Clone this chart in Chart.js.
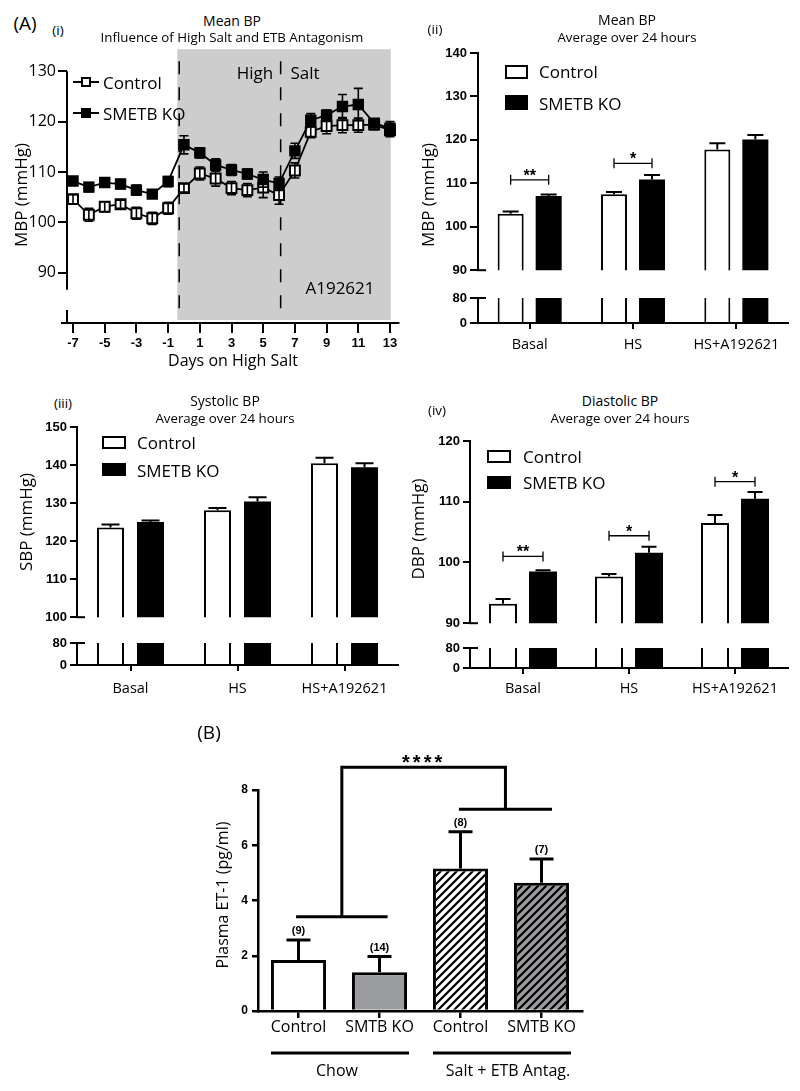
<!DOCTYPE html>
<html><head><meta charset="utf-8">
<script src="https://cdn.jsdelivr.net/npm/chart.js@4.4.1/dist/chart.umd.min.js"></script>
<style>
html,body{margin:0;padding:0;background:#fff;}
#root{position:relative;width:800px;height:1091px;overflow:hidden;font-family:"Open Sans",sans-serif;color:#000;background:#fff;}
canvas{position:absolute;}
.t{position:absolute;white-space:nowrap;line-height:1;z-index:5;}
.b{position:absolute;box-sizing:border-box;z-index:5;}
</style></head><body><div id="root"></div>
<script>
// ---------- DATA ----------
// (i) Mean BP time course
const days = [-7,-6,-5,-4,-3,-2,-1,0,1,2,3,4,5,6,7,8,9,10,11,12,13];
const mbpControl    = [104.6,101.5,103.1,103.6,101.8,100.8,102.8,106.8,109.7,108.7,106.8,106.4,106.9,105.4,110.3,118.0,119.1,119.3,119.3,119.4,118.3];
const mbpControlErr = [0.9,1.3,1.0,0.8,1.2,1.2,1.2,0.8,1.3,1.5,1.3,1.3,2.0,1.8,1.5,1.2,1.5,1.5,1.4,1.0,1.3];
const mbpKO         = [108.2,107.0,107.9,107.6,106.4,105.6,108.1,115.4,113.8,111.4,110.4,109.6,108.5,107.7,114.2,120.3,121.3,123.0,123.4,119.7,118.7];
const mbpKOErr      = [0.8,0.9,0.7,0.9,1.0,0.7,1.0,1.8,1.0,1.2,1.1,1.0,1.5,1.3,1.5,1.3,1.0,2.4,3.2,0.8,1.3];
const dayTicks = [-7,-5,-3,-1,1,3,5,7,9,11,13];
const mbpTicks = [90,100,110,120,130];
const shadeDays = [-0.42, 13.05];
const shadeLevels = [134.4, 80.6];
const dashDays = [-0.3, 6.1];

// (ii)-(iv) 24 h averages
const phases = ['Basal','HS','HS+A192621'];
const meanCtrl = [103.0,107.5,117.8], meanCtrlErr = [0.5,0.5,1.4];
const meanKO   = [107.1,110.9,120.1], meanKOErr   = [0.3,1.0,1.0];
const meanTicks = [90,100,110,120,130,140];
const meanSigLevel = [110.8,114.6,null], meanSigText = ['**','*',''];

const sbpCtrl = [123.6,128.1,140.5], sbpCtrlErr = [0.8,0.6,1.4];
const sbpKO   = [125.0,130.4,139.4], sbpKOErr   = [0.4,1.1,1.1];
const sbpTicks = [100,110,120,130,140,150];
const sbpSigLevel = [null,null,null], sbpSigText = ['','',''];

const dbpCtrl = [93.2,97.7,106.5], dbpCtrlErr = [0.8,0.4,1.3];
const dbpKO   = [98.5,101.6,110.5], dbpKOErr   = [0.2,1.0,1.1];
const dbpTicks = [90,100,110,120];
const dbpSigLevel = [101.0,104.4,113.3], dbpSigText = ['**','*','*'];

const lowTicks = [0,80];

// (B) Plasma ET-1
const et1Groups = ['Control','SMTB KO','Control','SMTB KO'];
const et1Values = [1.85,1.40,5.16,4.64];
const et1Err    = [0.72,0.57,1.33,0.86];
const et1N      = ['(9)','(14)','(8)','(7)'];
const et1Ticks  = [0,2,4,6,8];
const et1Brackets = [3.41, 8.82, 7.30]; // chow level, top level, salt level
const et1Sig = '****';

// ---------- helpers ----------
const root = document.getElementById('root');
function mkCanvas(l,t,w,h){const c=document.createElement('canvas');c.width=w;c.height=h;c.style.left=l+'px';c.style.top=t+'px';c.style.width=w+'px';c.style.height=h+'px';root.appendChild(c);return c;}
function txt(s,x,y,size,opt){opt=opt||{};const d=document.createElement('div');d.className='t';d.textContent=s;d.style.left=x+'px';d.style.top=y+'px';d.style.fontSize=size+'px';
  let tr = opt.left ? 'translate(0,-50%)' : 'translate(-50%,-50%)'; if(opt.rot) tr += ' rotate(-90deg)'; d.style.transform=tr; if(opt.weight) d.style.fontWeight=opt.weight; root.appendChild(d); return d;}
function box(x,y,w,h,bg){const d=document.createElement('div');d.className='b';d.style.left=x+'px';d.style.top=y+'px';d.style.width=w+'px';d.style.height=h+'px';d.style.background=bg;d.style.border='2px solid #000';root.appendChild(d);return d;}
function hline(x,y,w,h){const d=document.createElement('div');d.className='b';d.style.left=x+'px';d.style.top=y+'px';d.style.width=w+'px';d.style.height=h+'px';d.style.background='#000';root.appendChild(d);return d;}
const base = {responsive:false, animation:false, devicePixelRatio:1, events:[]};
const noPlug = {legend:{display:false}, tooltip:{enabled:false}};
const numFont = (s)=>({family:'Liberation Sans', weight:'bold', size:s});

// ---------- (i) line chart ----------
function makeLineErr(errs){return {id:'lineErr', afterDatasetDraw(chart,args){const idx=args.index, e=errs[idx], y=chart.scales.y, ctx=chart.ctx;
  ctx.save();ctx.strokeStyle='#000';ctx.lineWidth=1.6;ctx.beginPath();
  args.meta.data.forEach((pt,i)=>{const v=chart.data.datasets[idx].data[i].y;const yt=y.getPixelForValue(v+e[i]),yb=y.getPixelForValue(v-e[i]);
    ctx.moveTo(pt.x,yt);ctx.lineTo(pt.x,yb);ctx.moveTo(pt.x-4.5,yt);ctx.lineTo(pt.x+4.5,yt);ctx.moveTo(pt.x-4.5,yb);ctx.lineTo(pt.x+4.5,yb);});
  ctx.stroke();ctx.restore();}};}
const panel1Deco = {id:'p1deco',
  beforeDraw(chart){const {ctx,scales:{x,y}}=chart;ctx.save();ctx.fillStyle='#cdcdcd';
    const x0=x.getPixelForValue(shadeDays[0]),x1=x.getPixelForValue(shadeDays[1]),y0=y.getPixelForValue(shadeLevels[0]),y1=y.getPixelForValue(shadeLevels[1]);
    ctx.fillRect(x0,y0,x1-x0,y1-y0);ctx.restore();},
  beforeDatasetsDraw(chart){const {ctx,scales:{x,y}}=chart;ctx.save();ctx.strokeStyle='#000';
    ctx.lineWidth=1.5;ctx.setLineDash([13,13]);
    dashDays.forEach(d=>{const px=x.getPixelForValue(d);ctx.beginPath();ctx.moveTo(px,y.getPixelForValue(132));ctx.lineTo(px,y.getPixelForValue(80.8));ctx.stroke();});
    ctx.setLineDash([]);ctx.lineWidth=2;
    const ax=chart.chartArea.left;ctx.beginPath();
    ctx.moveTo(ax,y.getPixelForValue(130));ctx.lineTo(ax,y.getPixelForValue(86.6));
    ctx.moveTo(ax,y.getPixelForValue(82.6));ctx.lineTo(ax,y.getPixelForValue(80));
    const by=y.getPixelForValue(80);ctx.moveTo(ax-6,by);ctx.lineTo(chart.chartArea.right,by);ctx.stroke();ctx.restore();}};
(function(){
  const c=mkCanvas(0,45,410,330);
  new Chart(c,{type:'line',data:{datasets:[
    {label:'SMETB KO',order:0,data:days.map((d,i)=>({x:d,y:mbpKO[i]})),borderColor:'#000',borderWidth:1.8,pointStyle:'rect',pointRadius:7,pointBackgroundColor:'#000',pointBorderColor:'#000',pointBorderWidth:1.5,tension:0},
    {label:'Control',order:1,data:days.map((d,i)=>({x:d,y:mbpControl[i]})),borderColor:'#000',borderWidth:1.8,pointStyle:'rect',pointRadius:7,pointBackgroundColor:'#fff',pointBorderColor:'#000',pointBorderWidth:2,tension:0}
  ]},options:Object.assign({},base,{layout:{padding:{left:0,top:26.3,right:10.5,bottom:0}},plugins:noPlug,
    scales:{
      x:{type:'linear',min:-7.38,max:13.6,bounds:'data',afterBuildTicks:s=>{s.ticks=dayTicks.map(v=>({value:v}));},afterFit:s=>{s.height=52;},
        grid:{drawOnChartArea:false,tickLength:10,color:'#000',lineWidth:2},border:{display:false},
        ticks:{font:numFont(13),color:'#000',padding:3,maxRotation:0,autoSkip:false}},
      y:{min:80,max:130,bounds:'data',afterBuildTicks:s=>{s.ticks=mbpTicks.map(v=>({value:v}));},afterFit:s=>{s.width=67;},
        grid:{drawOnChartArea:false,tickLength:9,color:'#000',lineWidth:2},border:{display:false},
        ticks:{font:{family:'Open Sans',size:16},color:'#000',padding:2,autoSkip:false}}
    }}),plugins:[panel1Deco,makeLineErr([mbpKOErr,mbpControlErr])]});
})();

// ---------- broken-axis bar panels ----------
function makeBarDeco(p,part){return {id:'bdeco',afterDatasetsDraw(chart){const {ctx,chartArea:a}=chart;const y=chart.scales.y;ctx.save();ctx.strokeStyle='#000';ctx.fillStyle='#000';
  ctx.lineWidth=2;ctx.beginPath();
  const by = part==='upper'? a.bottom : a.top; ctx.moveTo(a.left-1,by);ctx.lineTo(a.left+8,by);ctx.stroke();
  if(part==='upper'){
    const sets=[[p.ctrl,p.ctrlErr],[p.ko,p.koErr]];
    ctx.beginPath();
    sets.forEach((s,di)=>{const meta=chart.getDatasetMeta(di);meta.data.forEach((el,i)=>{const yv=y.getPixelForValue(s[0][i]),ye=y.getPixelForValue(s[0][i]+s[1][i]);
      ctx.moveTo(el.x,yv);ctx.lineTo(el.x,ye);ctx.moveTo(el.x-p.cap,ye);ctx.lineTo(el.x+p.cap,ye);});});
    ctx.stroke();
    const m0=chart.getDatasetMeta(0),m1=chart.getDatasetMeta(1);
    ctx.lineWidth=1.3;ctx.font='bold 16px "Liberation Sans"';ctx.textAlign='center';ctx.textBaseline='alphabetic';
    p.sigLevel.forEach((lv,i)=>{if(lv==null)return;const x0=m0.data[i].x,x1=m1.data[i].x,yy=y.getPixelForValue(lv);
      ctx.beginPath();ctx.moveTo(x0,yy);ctx.lineTo(x1,yy);ctx.moveTo(x0,yy-5);ctx.lineTo(x0,yy+5);ctx.moveTo(x1,yy-5);ctx.lineTo(x1,yy+5);ctx.stroke();
      ctx.fillText(p.sigText[i],(x0+x1)/2,yy+1);});
  }
  ctx.restore();}};}
function barPanel(p){
  const yW=p.areaL-p.canvasLeft, padR=p.canvasLeft+p.canvasW-p.areaR;
  const ds=()=>[
    {label:'Control',data:p.ctrl,backgroundColor:'#fff',borderColor:'#000',borderWidth:2,clip:0,categoryPercentage:p.catPct,barPercentage:p.barPct},
    {label:'SMETB KO',data:p.ko,backgroundColor:'#000',borderColor:'#000',borderWidth:0,clip:0,categoryPercentage:p.catPct,barPercentage:p.barPct}];
  const yAxis=(min,max,ticks)=>({min,max,bounds:'data',afterBuildTicks:s=>{s.ticks=ticks.map(v=>({value:v}));},afterFit:s=>{s.width=yW;},
    grid:{drawOnChartArea:false,tickLength:p.tickLen,color:'#000',lineWidth:2},border:{display:true,color:'#000',width:2},
    ticks:{font:numFont(13),color:'#000',padding:3,autoSkip:false}});
  const uTop=p.upperT-14,uBot=p.upperB+6;
  new Chart(mkCanvas(p.canvasLeft,uTop,p.canvasW,uBot-uTop),{type:'bar',data:{labels:phases,datasets:ds()},
    options:Object.assign({},base,{layout:{padding:{left:0,right:padR,top:p.upperT-uTop,bottom:uBot-p.upperB}},plugins:noPlug,
      scales:{x:{display:false},y:yAxis(p.upperMin,p.upperMax,p.upperTicks)}}),plugins:[makeBarDeco(p,'upper')]});
  const lTop=p.lowerT-12,lBot=p.lowerB+36;
  new Chart(mkCanvas(p.canvasLeft,lTop,p.canvasW,lBot-lTop),{type:'bar',data:{labels:phases,datasets:ds()},
    options:Object.assign({},base,{layout:{padding:{left:0,right:padR,top:p.lowerT-lTop,bottom:0}},plugins:noPlug,
      scales:{x:{afterFit:s=>{s.height=lBot-p.lowerB;},grid:{drawOnChartArea:false,offset:false,tickLength:6,color:'#000',lineWidth:2},border:{color:'#000',width:2},
        ticks:{font:{family:'Open Sans',size:14.5},color:'#000',padding:p.labPad,autoSkip:false,maxRotation:0}},
        y:yAxis(0,80,lowTicks)}}),plugins:[makeBarDeco(p,'lower')]});
}
barPanel({canvasLeft:400,canvasW:400,areaL:478,areaR:788,upperT:53,upperB:275,upperMin:90,upperMax:140,upperTicks:meanTicks,lowerT:298,lowerB:323,
  ctrl:meanCtrl,ctrlErr:meanCtrlErr,ko:meanKO,koErr:meanKOErr,sigLevel:meanSigLevel,sigText:meanSigText,catPct:0.736,barPct:0.684,cap:8,tickLen:8,labPad:7});
barPanel({canvasLeft:0,canvasW:410,areaL:77,areaR:398,upperT:427,upperB:622,upperMin:100,upperMax:150,upperTicks:sbpTicks,lowerT:643,lowerB:665,
  ctrl:sbpCtrl,ctrlErr:sbpCtrlErr,ko:sbpKO,koErr:sbpKOErr,sigLevel:sbpSigLevel,sigText:sbpSigText,catPct:0.748,barPct:0.675,cap:9,tickLen:7,labPad:9});
barPanel({canvasLeft:400,canvasW:400,areaL:470,areaR:788,upperT:441,upperB:628,upperMin:90,upperMax:120,upperTicks:dbpTicks,lowerT:648,lowerB:668,
  ctrl:dbpCtrl,ctrlErr:dbpCtrlErr,ko:dbpKO,koErr:dbpKOErr,sigLevel:dbpSigLevel,sigText:dbpSigText,catPct:0.755,barPct:0.70,cap:7.5,tickLen:7,labPad:6});

// ---------- (B) ----------
(function(){
  const c=mkCanvas(180,740,420,351);const g=c.getContext('2d');
  function hatch(bg){const t=document.createElement('canvas');t.width=8;t.height=8;const h=t.getContext('2d');h.fillStyle=bg;h.fillRect(0,0,8,8);
    h.strokeStyle='#000';h.lineWidth=2.2;h.beginPath();h.moveTo(-2,10);h.lineTo(10,-2);h.moveTo(-2,2);h.lineTo(2,-2);h.moveTo(6,10);h.lineTo(10,6);h.stroke();return g.createPattern(t,'repeat');}
  const grey='#9b9c9f';
  const deco={id:'bB',afterDatasetsDraw(chart){const {ctx,chartArea:a,scales:{x,y}}=chart;const meta=chart.getDatasetMeta(0);ctx.save();ctx.strokeStyle='#000';ctx.fillStyle='#000';ctx.lineWidth=3;
    ctx.beginPath();
    meta.data.forEach((el,i)=>{const yv=y.getPixelForValue(et1Values[i]),ye=y.getPixelForValue(et1Values[i]+et1Err[i]);ctx.moveTo(el.x,yv);ctx.lineTo(el.x,ye);ctx.moveTo(el.x-12,ye);ctx.lineTo(el.x+12,ye);});
    ctx.stroke();
    ctx.font='bold 11px "Liberation Sans"';ctx.textAlign='center';ctx.textBaseline='middle';
    meta.data.forEach((el,i)=>{ctx.fillText(et1N[i],el.x,y.getPixelForValue(et1Values[i]+et1Err[i])-9);});
    const xa0=x.getPixelForValue(-0.03),xa1=x.getPixelForValue(1.1),xb0=x.getPixelForValue(1.98),xb1=x.getPixelForValue(3.13);
    const yc=y.getPixelForValue(et1Brackets[0]),yt=y.getPixelForValue(et1Brackets[1]),ys=y.getPixelForValue(et1Brackets[2]);
    const ma=(xa0+xa1)/2,mb=(xb0+xb1)/2;
    ctx.beginPath();ctx.moveTo(xa0,yc);ctx.lineTo(xa1,yc);ctx.moveTo(ma,yc);ctx.lineTo(ma,yt);ctx.lineTo(mb,yt);ctx.lineTo(mb,ys);ctx.moveTo(xb0,ys);ctx.lineTo(xb1,ys);ctx.stroke();
    ctx.font='bold 20px "Liberation Sans"';ctx.textBaseline='alphabetic';ctx.letterSpacing='3px';ctx.fillText(et1Sig,(ma+mb)/2,yt+2);ctx.letterSpacing='0px';
    // group underlines
    const gy=a.bottom+42;ctx.lineWidth=3;ctx.beginPath();
    [[0,1],[2,3]].forEach(([i0,i1])=>{const e0=meta.data[i0],e1=meta.data[i1];ctx.moveTo(e0.x-e0.width/2,gy);ctx.lineTo(e1.x+e1.width/2+2,gy);});
    ctx.stroke();ctx.restore();}};
  new Chart(c,{type:'bar',data:{labels:et1Groups,datasets:[{data:et1Values,backgroundColor:['#fff',grey,hatch('#fff'),hatch(grey)],borderColor:'#000',borderWidth:3,barPercentage:0.68,categoryPercentage:1,clip:false}]},
    options:Object.assign({},base,{layout:{padding:{left:0,top:50,right:18,bottom:0}},plugins:noPlug,
      scales:{x:{afterFit:s=>{s.height=80;},grid:{drawOnChartArea:false,offset:false,tickLength:7,color:'#000',lineWidth:2.5},border:{color:'#000',width:2.5},
          ticks:{font:{family:'Open Sans',size:16},color:'#000',padding:0,autoSkip:false,maxRotation:0}},
        y:{min:0,max:8,bounds:'data',afterBuildTicks:s=>{s.ticks=et1Ticks.map(v=>({value:v}));},afterFit:s=>{s.width=78;},
          grid:{drawOnChartArea:false,tickLength:6,color:'#000',lineWidth:2.5},border:{color:'#000',width:2.5},
          ticks:{font:numFont(12),color:'#000',padding:4,autoSkip:false}}}}),plugins:[deco]});
})();

// ---------- text & legends ----------
txt('(A)',25,23,19);txt('(i)',58,31,13.5);
txt('Mean BP',232,21,14);txt('Influence of High Salt and ETB Antagonism',232,38,13.3);
txt('MBP (mmHg)',20,195,17,{rot:1});txt('Days on High Salt',233,360,16);
txt('High',255,72,17);txt('Salt',305,72,17);txt('A192621',340,287,17);
hline(73,81,26,2);box(81,77,10,10,'#fff');txt('Control',103,82,17,{left:1});
hline(73,112,26,2);box(81,108,10,10,'#000');txt('SMETB KO',103,113,17,{left:1});

txt('(ii)',435,30,13.5);txt('Mean BP',627,20,14);txt('Average over 24 hours',627,38,13.3);
txt('MBP (mmHg)',427,195,17,{rot:1});
box(505,65,23,14,'#fff');txt('Control',539,71,17,{left:1});
box(505,95,23,15,'#000');txt('SMETB KO',539,103,17,{left:1});

txt('(iii)',63,404,13.5);txt('Systolic BP',225,401,14);txt('Average over 24 hours',225,419,13.3);
txt('SBP (mmHg)',25,522,17,{rot:1});
box(102,436,24,13,'#fff');txt('Control',137,442,17,{left:1});
box(102,463,24,13,'#000');txt('SMETB KO',137,470,17,{left:1});

txt('(iv)',437,411,13.5);txt('Diastolic BP',620,401,14);txt('Average over 24 hours',620,419,13.3);
txt('DBP (mmHg)',417,529,17,{rot:1});
box(487,450,24,13,'#fff');txt('Control',523,456,17,{left:1});
box(487,476,24,13,'#000');txt('SMETB KO',523,482,17,{left:1});

txt('(B)',209,732,19);
txt('Plasma ET-1 (pg/ml)',222,895,16,{rot:1});
txt('Chow',337,1070,16);txt('Salt + ETB Antag.',508,1070,16);
</script></body></html>
